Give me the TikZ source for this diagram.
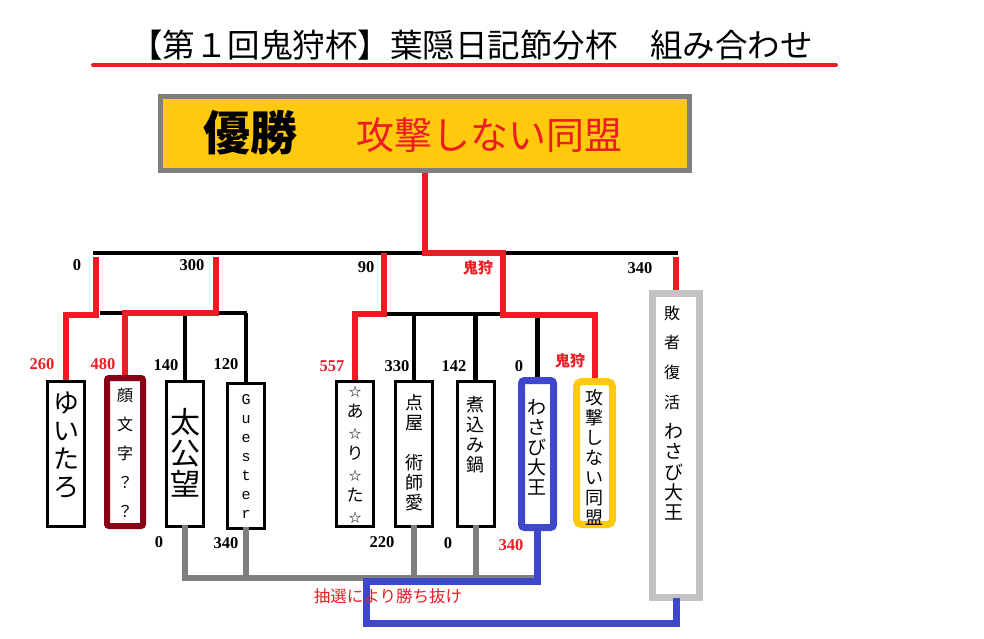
\documentclass[tikz,border=0pt]{standalone}
\usepackage{fontspec}
\newfontfamily\jp{Noto Sans CJK JP}
\newfontfamily\numf{Liberation Serif}
\newfontfamily\monof{Liberation Mono}
\newcommand\smallstar{{\fontsize{12.5}{12.5}\selectfont ☆}}
\definecolor{cRed}{HTML}{ED1C24}
\definecolor{cDark}{HTML}{880015}
\definecolor{cBlue}{HTML}{3F48CC}
\definecolor{cGold}{HTML}{FFC90E}
\definecolor{cGray}{HTML}{7F7F7F}
\definecolor{cLight}{HTML}{C3C3C3}
\tikzset{
  blk/.style={draw=black, line width=4.5pt},
  redl/.style={draw=cRed, line width=6pt},
  grl/.style={draw=cGray, line width=6pt, line cap=rect},
  bll/.style={draw=cBlue, line width=7pt, line cap=rect},
  ent/.style={draw=black, line width=3pt, fill=white, inner sep=0pt, minimum width=37pt, minimum height=145pt},
  vt/.style={align=center, inner sep=0pt, text=black},
  num/.style={inner sep=0pt, font=\numf\bfseries\fontsize{16.5}{16.5}\selectfont},
  rnum/.style={num, text=cRed},
  oni/.style={inner sep=0pt, text=cRed, font=\jp\bfseries\fontsize{15}{15}\selectfont},
}
\begin{document}
\begin{tikzpicture}[x=1pt,y=-1pt]
\useasboundingbox (0,0) rectangle (984,638);
% title
\node[inner sep=0pt, font=\jp\fontsize{32.5}{33}\selectfont] (title) at (471.5,45) {【第１回鬼狩杯】葉隠日記節分杯　組み合わせ};
\coordinate (ulL) at (93,65);
\coordinate (ulR) at (836,65);
\draw[draw=cRed, line width=4pt, line cap=round] (ulL) -- (ulR);
% winner box
\node[draw=cGray, fill=cGold, line width=5pt, minimum width=529pt, minimum height=74pt, inner sep=0pt] (win) at (425,133.5) {};
\node[inner sep=0pt, font=\jp\bfseries\fontsize{47}{47}\selectfont] (winL) at (250,133) {優勝};
\node[inner sep=0pt, text=cRed, font=\jp\fontsize{38}{38}\selectfont] (winN) at (489,135) {攻撃しない同盟};
% entrant boxes
\node[ent] (yui) at (66,454) {};
\node[ent, draw=cDark, line width=6pt, minimum width=36pt, minimum height=148pt, rounded corners=2pt] (kao) at (125,452) {};
\node[ent] (tai) at (185,454) {};
\node[ent] (gue) at (246,456) {};
\node[ent] (ari) at (355,454) {};
\node[ent] (ten) at (414,454) {};
\node[ent] (nik) at (475.5,454) {};
\node[ent, draw=cBlue, line width=7pt, minimum width=32pt, minimum height=147pt, rounded corners=3pt] (was) at (537.5,454) {};
\node[ent, draw=cGold, line width=7pt, minimum width=36pt, minimum height=143pt, rounded corners=5pt] (kg) at (594.5,453) {};
\node[ent, draw=cLight, line width=7pt, minimum width=47pt, minimum height=304pt] (hai) at (676,445.5) {};
% box texts
\node[vt, font=\jp\fontsize{26}{28}\selectfont] (yuiT) at (66,445) {ゆ\\い\\た\\ろ};
\node[vt, font=\jp\fontsize{16}{29}\selectfont] (kaoT) at (125,453) {顔\\文\\字\\？\\？};
\node[vt, font=\jp\fontsize{30}{31}\selectfont] (taiT) at (185,453) {太\\公\\望};
\node[vt, font=\monof\fontsize{15}{19}\selectfont] (gueT) at (246,456) {G\\u\\e\\s\\t\\e\\r};
\node[vt, font=\jp\fontsize{17}{21}\selectfont] (ariT) at (355,455) {\smallstar\\あ\\\smallstar\\り\\\smallstar\\た\\\smallstar};
\node[vt, font=\jp\fontsize{18}{20}\selectfont] (tenT) at (414,453) {点\\屋\\　\\術\\師\\愛};
\node[vt, font=\jp\fontsize{18}{20}\selectfont] (nikT) at (475.5,435) {煮\\込\\み\\鍋};
\node[vt, font=\jp\fontsize{19}{20}\selectfont] (wasT) at (537,447) {わ\\さ\\び\\大\\王};
\node[vt, font=\jp\fontsize{18}{20}\selectfont] (kgT) at (594,457) {攻\\撃\\し\\な\\い\\同\\盟};
\node[vt, font=\jp\fontsize{16}{29.7}\selectfont] (haiT1) at (672,357.5) {敗\\者\\復\\活};
\node[vt, font=\jp\fontsize{19}{20.3}\selectfont] (haiT2) at (674,472) {わ\\さ\\び\\大\\王};
% junction coordinates
\coordinate (tL) at (93,253);
\coordinate (tR) at (678,253);
\coordinate (lbL) at (100,313);
\coordinate (lbR) at (247,313);
\coordinate (lA) at (96,257);
\coordinate (lB) at (96,315);
\coordinate (lC) at (216,313);
\coordinate (lD) at (216,257);
\coordinate (mA) at (384,314);
\coordinate (mB) at (384,253);
\coordinate (mE) at (597,314);
\coordinate (fW) at (503,253);
\coordinate (mR) at (503,315);
\coordinate (rA) at (676,257);
\coordinate (gR) at (535,578);
\coordinate (bA) at (366,581);
\coordinate (bB) at (366,623);
% black bracket
\draw[blk] (tL) -- (tR);
\draw[blk] (lbL) -- (lbR);
\draw[blk] (tai.north) -- (tai.north |- lbL);
\draw[blk] (gue.north) -- (gue.north |- lbR);
\draw[blk] (mA) -- (mE);
\draw[blk] (ten.north) -- (ten.north |- mA);
\draw[blk] (nik.north) -- (nik.north |- mA);
\draw[blk] (was.north) -- (was.north |- mA);
% red winner paths
\draw[redl] (yui.north) |- (lB) -- (lA);
\draw[redl] (kao.north) |- (lC) -- (lD);
\draw[redl] (ari.north) |- (mA) -- (mB);
\draw[redl] (kg.north) |- (mR) -- (fW) -| (win.south);
\draw[redl] (hai.north) -- (rA);
% gray lower lines
\draw[grl] (tai.south) |- (gR);
\draw[grl] (gue.south) -- (gue.south |- gR);
\draw[grl] (ten.south) -- (ten.south |- gR);
\draw[grl] (nik.south) -- (nik.south |- gR);
% blue path
\draw[bll] (was.south) |- (bA) -- (bB) -| (hai.south);
% top-level labels
\node[num] (n0) at (77,265) {0};
\node[num] (n300) at (192,265) {300};
\node[num] (n90) at (366,267) {90};
\node[oni] (o1) at (478,268) {鬼狩};
\node[num] (n340a) at (640,268) {340};
% second-level labels
\node[rnum] (n260) at (42,364) {260};
\node[rnum] (n480) at (103,364) {480};
\node[num] (n140) at (166,365) {140};
\node[num] (n120) at (226,364) {120};
\node[rnum] (n557) at (332,366) {557};
\node[num] (n330) at (397,366) {330};
\node[num] (n142) at (454,366) {142};
\node[num] (n0b) at (519,366) {0};
\node[oni] (o2) at (570,361) {鬼狩};
% bottom labels
\node[num] (b0) at (159,542) {0};
\node[num] (b340) at (226,543) {340};
\node[num] (b220) at (382,542) {220};
\node[num] (b0b) at (448,543) {0};
\node[rnum] (b340r) at (511,545) {340};
\node[inner sep=0pt, text=cRed, font=\jp\fontsize{16.5}{17}\selectfont] (lot) at (388,596) {抽選により勝ち抜け};
\end{tikzpicture}
\end{document}
